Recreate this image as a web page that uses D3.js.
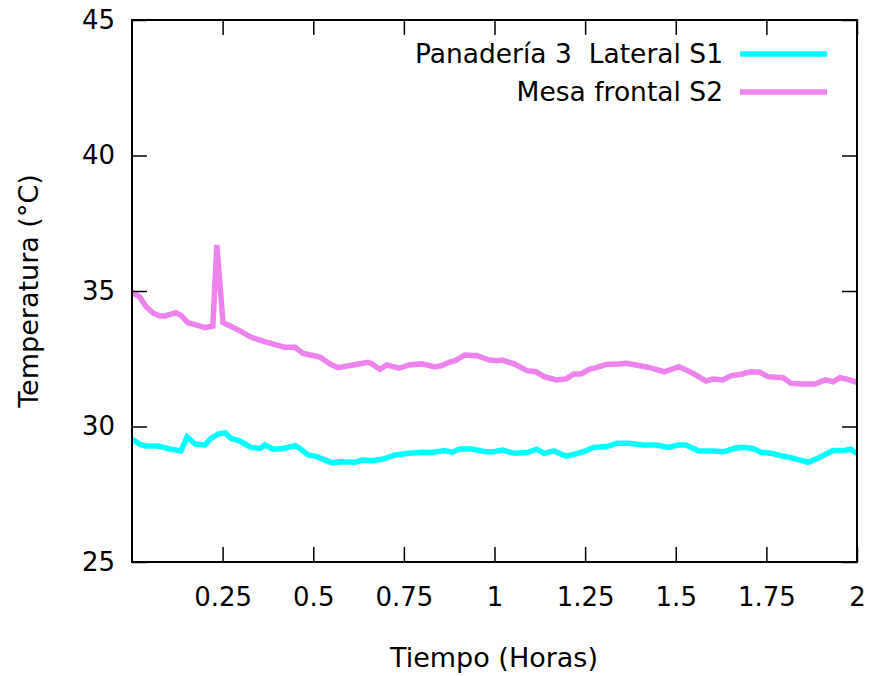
<!DOCTYPE html>
<html>
<head>
<meta charset="utf-8">
<script src="https://cdn.jsdelivr.net/npm/d3@7"></script>
<style>
  html, body { margin: 0; padding: 0; background: #fff; }
  svg { display: block; }
  text { font-family: "DejaVu Sans", sans-serif; fill: #000; white-space: pre; }
</style>
</head>
<body>
<script>
// ---- data ----
const seriesNames = ["Panadería 3  Lateral S1", "Mesa frontal S2"];
const seriesColors = ["#00ffff", "#ee82ee"];

const s1Time = [0.0,0.022,0.039,0.072,0.108,0.135,0.152,0.174,0.201,0.218,0.237,0.257,0.273,0.298,0.328,0.353,0.367,0.389,0.417,0.450,0.463,0.486,0.510,0.552,0.574,0.615,0.634,0.662,0.690,0.726,0.764,0.800,0.828,0.861,0.883,0.905,0.938,0.974,0.999,1.021,1.054,1.090,1.117,1.137,1.164,1.197,1.219,1.241,1.274,1.308,1.338,1.371,1.410,1.446,1.481,1.506,1.528,1.564,1.603,1.633,1.661,1.680,1.713,1.735,1.763,1.790,1.815,1.843,1.865,1.892,1.934,1.961,1.983,2.0];
const s1Temp = [29.53,29.34,29.28,29.28,29.16,29.10,29.62,29.35,29.32,29.56,29.72,29.77,29.56,29.46,29.23,29.19,29.32,29.16,29.19,29.29,29.19,28.95,28.89,28.66,28.70,28.68,28.76,28.74,28.79,28.95,29.01,29.05,29.04,29.11,29.05,29.17,29.17,29.07,29.07,29.13,29.01,29.04,29.16,29.01,29.10,28.91,28.97,29.05,29.23,29.25,29.38,29.38,29.32,29.32,29.23,29.32,29.32,29.10,29.10,29.07,29.19,29.23,29.19,29.05,29.01,28.92,28.86,28.76,28.68,28.83,29.11,29.11,29.16,28.99];

const s2Time = [0.0,0.021,0.039,0.058,0.077,0.091,0.121,0.135,0.154,0.177,0.201,0.223,0.234,0.251,0.284,0.328,0.361,0.381,0.422,0.450,0.472,0.505,0.519,0.546,0.568,0.610,0.651,0.662,0.684,0.703,0.737,0.764,0.800,0.836,0.855,0.875,0.891,0.919,0.952,0.986,1.007,1.021,1.054,1.090,1.114,1.137,1.170,1.197,1.219,1.239,1.261,1.280,1.308,1.343,1.363,1.390,1.426,1.468,1.509,1.548,1.583,1.603,1.630,1.652,1.680,1.708,1.732,1.754,1.796,1.818,1.846,1.884,1.912,1.934,1.953,1.975,2.0];
const s2Temp = [34.95,34.79,34.42,34.19,34.08,34.08,34.20,34.10,33.83,33.75,33.65,33.70,36.70,33.83,33.63,33.30,33.15,33.08,32.92,32.92,32.70,32.60,32.56,32.31,32.17,32.27,32.37,32.31,32.11,32.27,32.15,32.27,32.31,32.20,32.25,32.37,32.43,32.64,32.61,32.45,32.43,32.45,32.31,32.06,32.02,31.84,31.72,31.75,31.94,31.94,32.11,32.17,32.29,32.31,32.33,32.27,32.18,32.02,32.21,31.96,31.68,31.75,31.72,31.87,31.93,32.02,32.00,31.84,31.80,31.59,31.57,31.57,31.72,31.65,31.80,31.74,31.63];

const xTicks = [0.25, 0.5, 0.75, 1, 1.25, 1.5, 1.75, 2];
const xTickLabels = ["0.25", "0.5", "0.75", "1", "1.25", "1.5", "1.75", "2"];
const yTicks = [25, 30, 35, 40, 45];
const xTitle = "Tiempo (Horas)";
const yTitle = "Temperatura (°C)";

// ---- layout ----
const W = 871, H = 676;
const plot = { left: 132, right: 857, top: 20, bottom: 562 };

const svg = d3.select("body").append("svg").attr("width", W).attr("height", H);

const x = d3.scaleLinear().domain([0, 2]).range([plot.left, plot.right]);
const y = d3.scaleLinear().domain([25, 45]).range([plot.bottom, plot.top]);

const tickLen = 15;
const fsTick = 26;
const fsTitle = 27;
const fsLegend = 26.5;

// data lines
svg.append("clipPath").attr("id", "clip").append("rect")
  .attr("x", plot.left).attr("y", plot.top)
  .attr("width", plot.right - plot.left).attr("height", plot.bottom - plot.top);

const line = d3.line().x(d => x(d[0])).y(d => y(d[1]));
const series = [
  { t: s1Time, v: s1Temp },
  { t: s2Time, v: s2Temp }
];
series.forEach((s, i) => {
  svg.append("path")
    .datum(s.t.map((tt, j) => [tt, s.v[j]]))
    .attr("d", line)
    .attr("fill", "none")
    .attr("stroke", seriesColors[i])
    .attr("stroke-width", 5.5)
    .attr("stroke-linejoin", "miter")
    .attr("clip-path", "url(#clip)");
});

// axes
const xAxisB = d3.axisBottom(x).tickValues(xTicks).tickFormat((d, i) => xTickLabels[i]).tickSizeInner(-tickLen).tickSizeOuter(0).tickPadding(26);
const gxB = svg.append("g").attr("transform", `translate(0,${plot.bottom})`).call(xAxisB);
const xAxisT = d3.axisTop(x).tickValues(xTicks).tickFormat("").tickSizeInner(-tickLen).tickSizeOuter(0);
const gxT = svg.append("g").attr("transform", `translate(0,${plot.top})`).call(xAxisT);
const yAxisL = d3.axisLeft(y).tickValues(yTicks).tickSizeInner(-tickLen).tickSizeOuter(0).tickPadding(17);
const gyL = svg.append("g").attr("transform", `translate(${plot.left},0)`).call(yAxisL);
const yAxisR = d3.axisRight(y).tickValues(yTicks).tickFormat("").tickSizeInner(-tickLen).tickSizeOuter(0);
const gyR = svg.append("g").attr("transform", `translate(${plot.right},0)`).call(yAxisR);

[gxB, gxT, gyL, gyR].forEach(g => {
  g.select(".domain").remove();
  g.selectAll(".tick line").attr("stroke", "#000").attr("stroke-width", 1.5);
  g.selectAll(".tick text").style("font-family", "'DejaVu Sans', sans-serif").style("font-size", fsTick + "px").attr("fill", "#000");
});

// frame
svg.append("rect")
  .attr("x", plot.left).attr("y", plot.top)
  .attr("width", plot.right - plot.left).attr("height", plot.bottom - plot.top)
  .attr("fill", "none").attr("stroke", "#000").attr("stroke-width", 2);

// axis titles
svg.append("text")
  .attr("x", 494).attr("y", 667)
  .attr("text-anchor", "middle").style("font-size", fsTitle + "px")
  .text(xTitle);
svg.append("text")
  .attr("transform", `translate(38,${(plot.top + plot.bottom) / 2}) rotate(-90)`)
  .attr("text-anchor", "middle").style("font-size", fsTitle + "px")
  .text(yTitle);

// legend
const legY = [54, 92];
seriesNames.forEach((name, i) => {
  svg.append("text")
    .attr("x", 723).attr("y", legY[i] + 9)
    .attr("text-anchor", "end").style("font-size", fsLegend + "px")
    .text(name);
  svg.append("line")
    .attr("x1", 740).attr("x2", 827)
    .attr("y1", legY[i]).attr("y2", legY[i])
    .attr("stroke", seriesColors[i]).attr("stroke-width", 5.5);
});
</script>
</body>
</html>
